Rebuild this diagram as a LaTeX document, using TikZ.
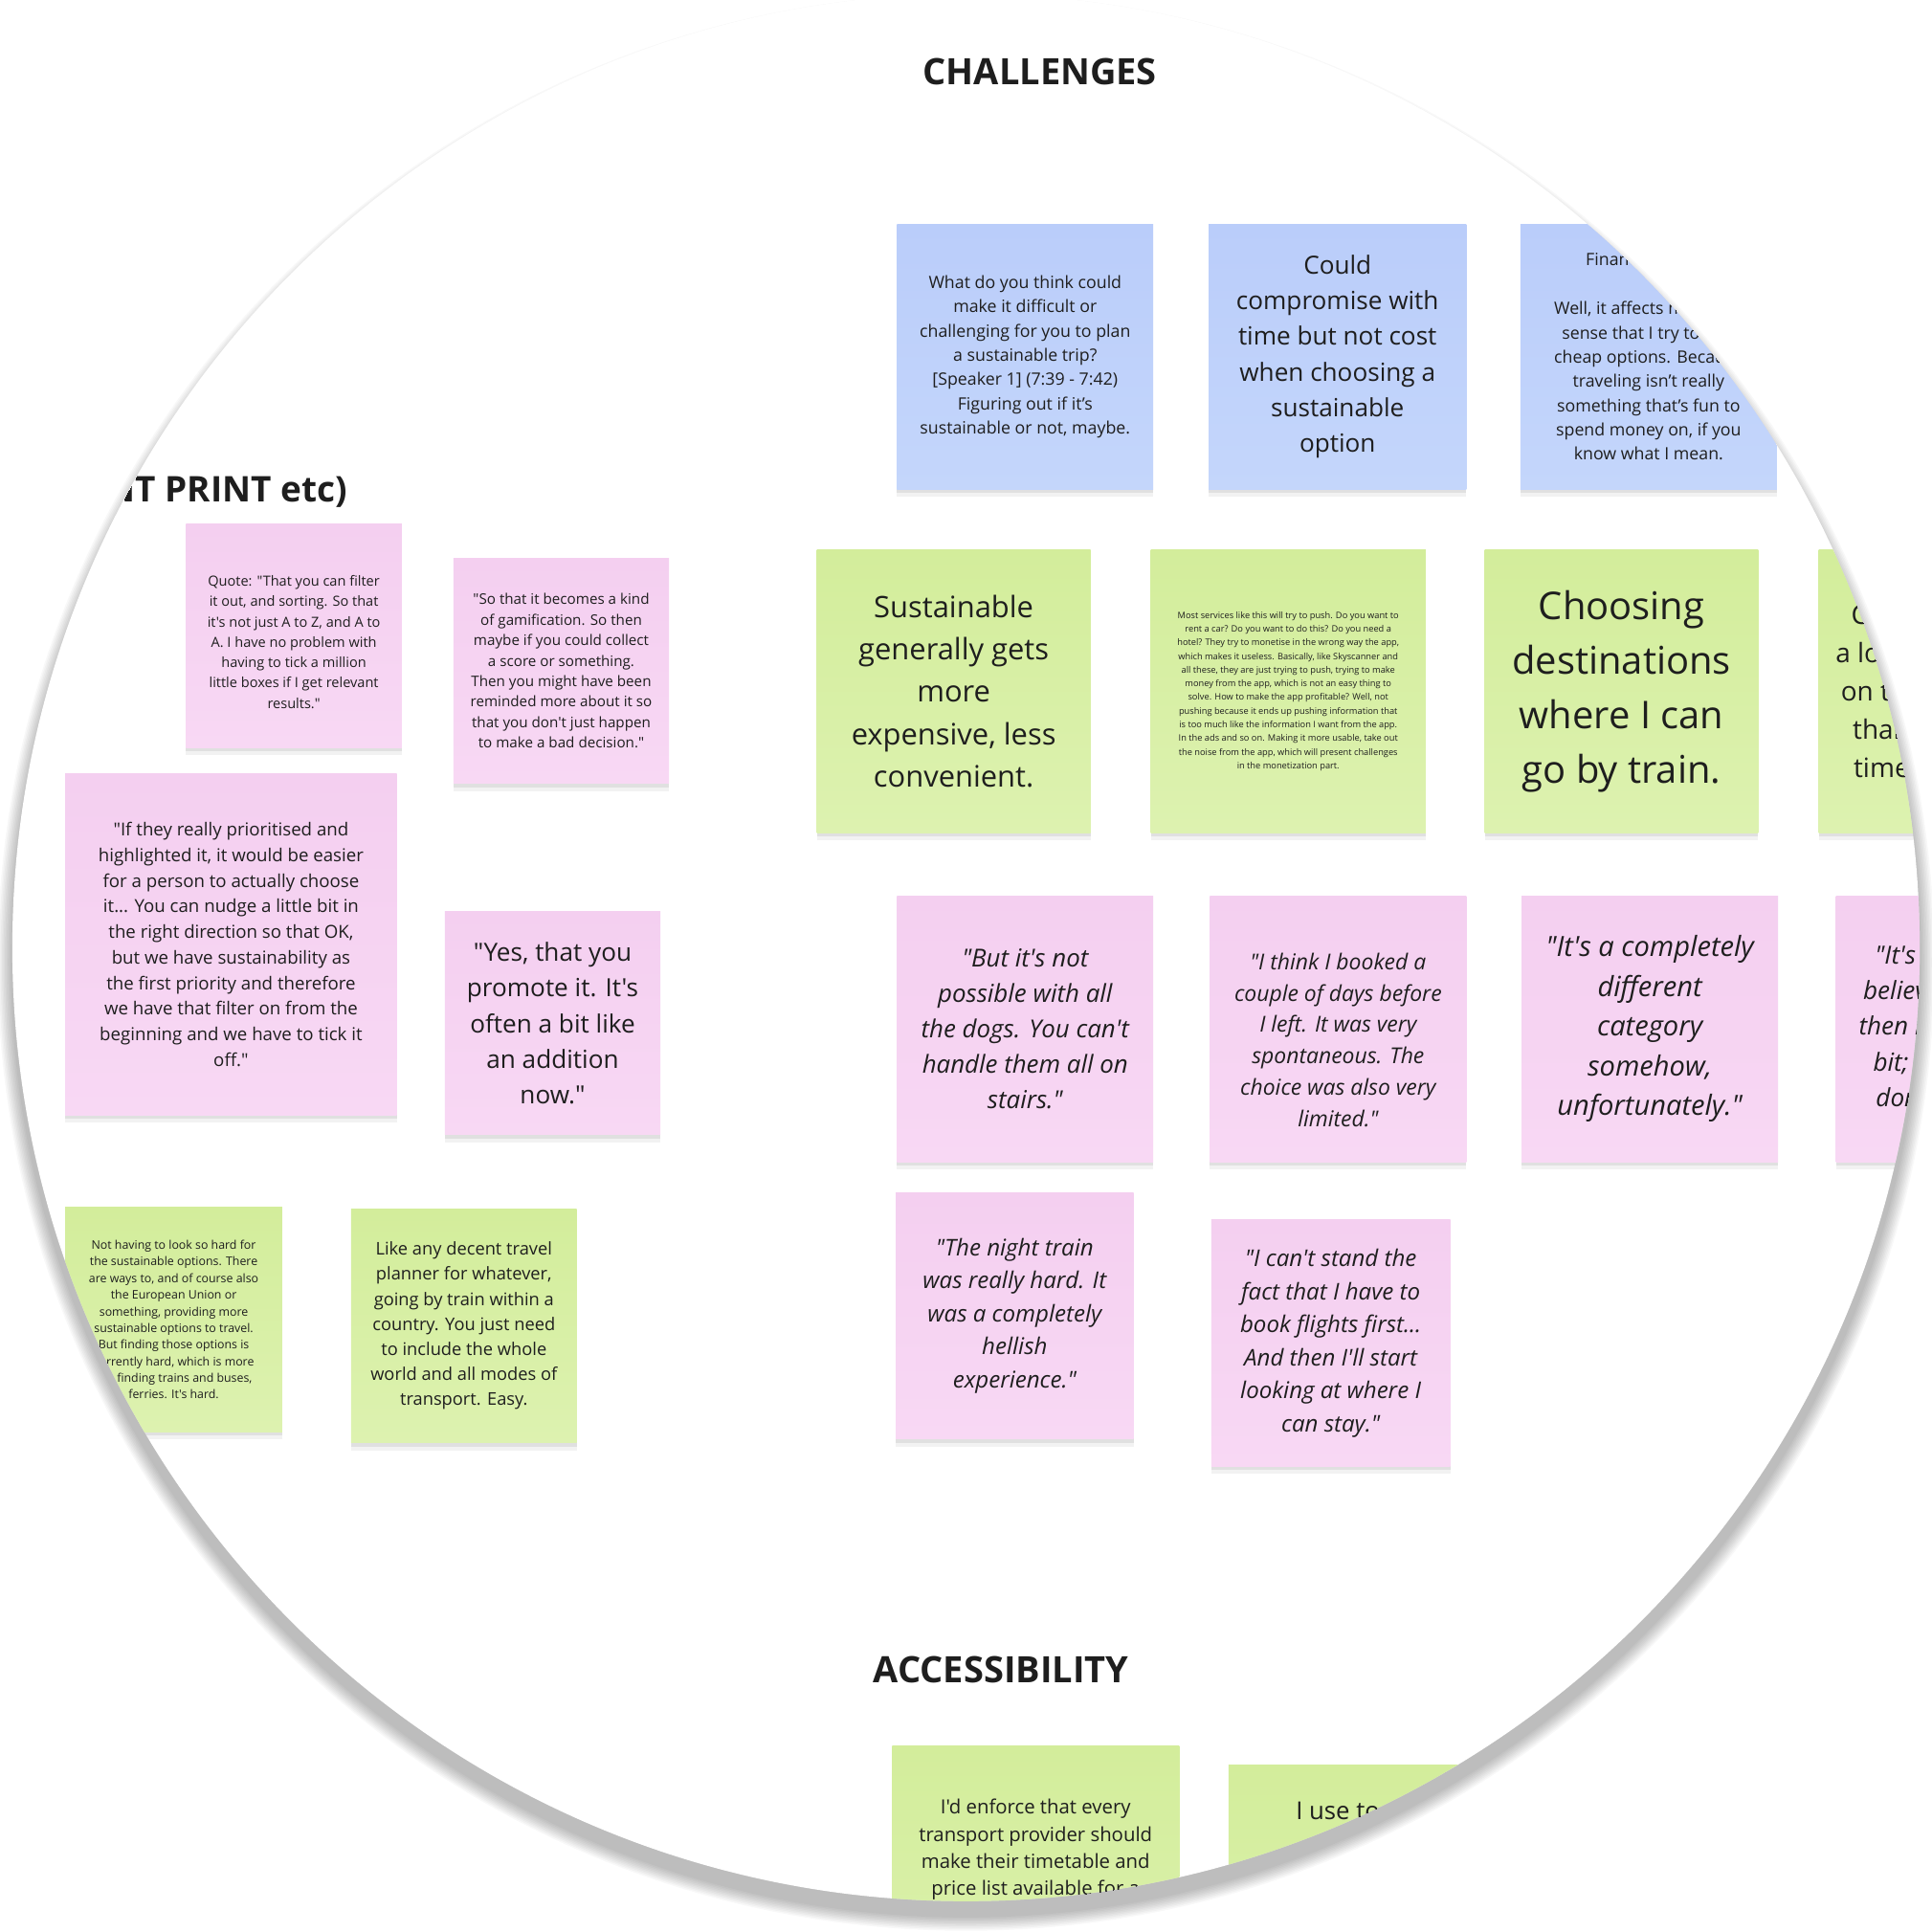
\documentclass[tikz,border=0pt]{standalone}
\usepackage{fontspec}
\setmainfont{Open Sans}[Ligatures=TeXOff]
\usepackage{xcolor}
\usepackage{tikz}
\usetikzlibrary{shadows}
\definecolor{inkc}{HTML}{1E1E1E}
\definecolor{blueTop}{RGB}{186,205,250}
\definecolor{blueBot}{RGB}{196,214,251}
\definecolor{greenTop}{RGB}{211,237,155}
\definecolor{greenBot}{RGB}{221,242,176}
\definecolor{pinkTop}{RGB}{244,207,240}
\definecolor{pinkBot}{RGB}{248,216,244}
\newcommand{\notefont}[2]{\fontsize{#1}{#2}\selectfont}

\begin{document}
\begin{tikzpicture}[
    x=1pt, y=-1pt,
    sticky/.style={rectangle, inner sep=0pt, align=center, text=inkc,
      drop shadow={shadow xshift=0pt, shadow yshift=-6pt, opacity=.05, fill=black},
      drop shadow={shadow xshift=0pt, shadow yshift=-3pt, opacity=.07, fill=black}},
    bluenote/.style={sticky, top color=blueTop, bottom color=blueBot},
    greennote/.style={sticky, top color=greenTop, bottom color=greenBot},
    pinknote/.style={sticky, top color=pinkTop, bottom color=pinkBot},
    notetext/.style={inner sep=0pt, align=center, text=inkc},
    heading/.style={inner sep=0pt, text=inkc, font=\notefont{29.5}{34}\bfseries}
]
\fill[white] (0,0) rectangle (1568,1568);
\useasboundingbox (0,0) rectangle (1568,1568);

\foreach \k in {1,...,10}
  \fill[black, opacity=0.026] (784,781) circle ({774+1.2*\k});
\fill[white] (784,769) circle (774);

\begin{scope}
\clip (784,769) circle (774);

\node[heading] (chalHead) at (844,58) {CHALLENGES};
\node[heading, anchor=east, font=\notefont{28.7}{34}\bfseries] (printHead) at (282,399) {NT PRINT etc)};
\node[heading] (accHead) at (812.5,1355) {ACCESSIBILITY};

\node[bluenote, minimum width=208, minimum height=215, font=\notefont{13.8}{19.7}] (chalQuestion) at (832,289.5) {What do you think could\\make it difficult or\\challenging for you to plan\\a sustainable trip?\\{}[Speaker 1] (7:39 - 7:42)\\Figuring out if it’s\\sustainable or not, maybe.};
\node[bluenote, minimum width=209, minimum height=215, font=\notefont{20.3}{29}] (chalTime) at (1085.5,289.5) {Could\\compromise with\\time but not cost\\when choosing a\\sustainable\\option};
\node[bluenote, minimum width=208, minimum height=215, font=\notefont{13.8}{19.7}] (chalMoney) at (1338,289.5) {Financial aspect\\[19.7pt]Well, it affects me in the\\sense that I try to find\\cheap options. Because\\traveling isn’t really\\something that’s fun to\\spend money on, if you\\know what I mean.};

\node[greennote, minimum width=222, minimum height=230, font=\notefont{24}{34.5}] (chalExpensive) at (774,561) {Sustainable\\generally gets\\more\\expensive, less\\convenient.};
\node[greennote, minimum width=223, minimum height=230, font=\notefont{7.2}{11.1}] (chalServices) at (1045.5,561) {Most services like this will try to push. Do you want to\\rent a car? Do you want to do this? Do you need a\\hotel? They try to monetise in the wrong way the app,\\which makes it useless. Basically, like Skyscanner and\\all these, they are just trying to push, trying to make\\money from the app, which is not an easy thing to\\solve. How to make the app profitable? Well, not\\pushing because it ends up pushing information that\\is too much like the information I want from the app.\\In the ads and so on. Making it more usable, take out\\the noise from the app, which will present challenges\\in the monetization part.};
\node[greennote, minimum width=222, minimum height=230, font=\notefont{31}{44.3}] (chalTrain) at (1316,561) {Choosing\\destinations\\where I can\\go by train.};
\node[greennote, minimum width=222, minimum height=230, font=\notefont{21.7}{31}] (chalLonger) at (1587,561) {Choosing to take\\a longer journey by\\on the train rather\\than flying every\\time I'm abroad.};

\node[pinknote, minimum width=208, minimum height=216, font=\notefont{20.1}{28.8}\itshape] (chalDogs) at (832,835) {"But it's not\\possible with all\\the dogs. You can't\\handle them all on\\stairs."};
\node[pinknote, minimum width=208, minimum height=216] (chalBooked) at (1086,835) {};
\node[notetext, font=\notefont{17.8}{25.4}\itshape] (chalBookedTxt) at (1086,844) {"I think I booked a\\couple of days before\\I left. It was very\\spontaneous. The\\choice was also very\\limited."};
\node[pinknote, minimum width=208, minimum height=216, font=\notefont{22.6}{32.3}\itshape] (chalCategory) at (1339,835) {"It's a completely\\different\\category\\somehow,\\unfortunately."};
\node[pinknote, minimum width=208, minimum height=216, font=\notefont{20.3}{29}\itshape] (chalBelieve) at (1594,835) {"It's hard to say,\\believe it, but I did\\then it helps a little\\bit; I mean, I still\\don't know yet."};

\node[pinknote, minimum width=193, minimum height=200, font=\notefont{18.7}{26.8}\itshape] (chalNight) at (823.5,1068) {"The night train\\was really hard. It\\was a completely\\hellish\\experience."};
\node[pinknote, minimum width=194, minimum height=200, font=\notefont{18.7}{26.8}\itshape] (chalFlights) at (1080,1090) {"I can't stand the\\fact that I have to\\book flights first...\\And then I'll start\\looking at where I\\can stay."};

\node[pinknote, minimum width=175, minimum height=182] (printFilter) at (238.5,516) {};
\node[notetext, font=\notefont{11.3}{16.5}] (printFilterTxt) at (238.5,521) {Quote: "That you can filter\\it out, and sorting. So that\\it's not just A to Z, and A to\\A. I have no problem with\\having to tick a million\\little boxes if I get relevant\\results."};
\node[pinknote, minimum width=175, minimum height=183, font=\notefont{11.8}{16.6}] (printGame) at (455.5,544.5) {"So that it becomes a kind\\of gamification. So then\\maybe if you could collect\\a score or something.\\Then you might have been\\reminded more about it so\\that you don't just happen\\to make a bad decision."};
\node[pinknote, minimum width=269, minimum height=277, font=\notefont{14.5}{20.8}] (printPriority) at (187.5,766.5) {"If they really prioritised and\\highlighted it, it would be easier\\for a person to actually choose\\it... You can nudge a little bit in\\the right direction so that OK,\\but we have sustainability as\\the first priority and therefore\\we have that filter on from the\\beginning and we have to tick it\\off."};
\node[pinknote, minimum width=175, minimum height=181, font=\notefont{20.3}{29}] (printPromote) at (448.5,830.5) {"Yes, that you\\promote it. It's\\often a bit like\\an addition\\now."};
\node[greennote, minimum width=176, minimum height=182, font=\notefont{9.6}{13.5}] (printLook) at (141,1071) {Not having to look so hard for\\the sustainable options. There\\are ways to, and of course also\\the European Union or\\something, providing more\\sustainable options to travel.\\But finding those options is\\currently hard, which is more\\like finding trains and buses,\\ferries. It's hard.};
\node[greennote, minimum width=183, minimum height=190, font=\notefont{14.2}{20.3}] (printPlanner) at (376.5,1076) {Like any decent travel\\planner for whatever,\\going by train within a\\country. You just need\\to include the whole\\world and all modes of\\transport. Easy.};

\node[greennote, minimum width=233, minimum height=240, anchor=north] (accEnforce) at (840.5,1417) {};
\node[notetext, anchor=north, font=\notefont{15.8}{22}] (accEnforceTxt) at (840.5,1460) {I'd enforce that every\\transport provider should\\make their timetable and\\price list available for a};
\node[greennote, minimum width=233, minimum height=240, anchor=north] (accUse) at (1113.5,1432) {};
\node[notetext, anchor=north, font=\notefont{20}{29}] (accUseTxt) at (1113.5,1461) {I use to go by\\with trains};
\end{scope}
\end{tikzpicture}
\end{document}
